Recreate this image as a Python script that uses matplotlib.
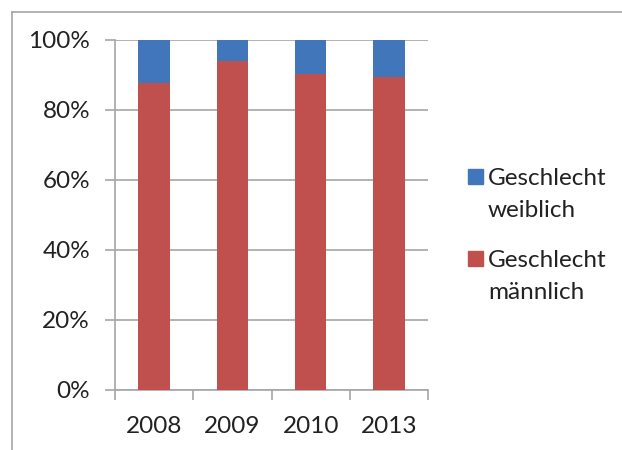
import matplotlib
matplotlib.use("Agg")
import matplotlib.pyplot as plt
import numpy as np
from matplotlib.patches import Rectangle
from matplotlib.lines import Line2D

years = ["2008", "2009", "2010", "2013"]
maennlich = [87.8, 94.0, 90.2, 89.3]
weiblich = [12.2, 6.0, 9.8, 10.7]
labels = ["Geschlecht\nweiblich", "Geschlecht\nmännlich"]

col_w = "#4177BA"
col_m = "#C0504D"
grey = "#A6A6A6"

plt.rcParams['font.family'] = ['Lato', 'DejaVu Sans']
fs = 17.5

fig = plt.figure(figsize=(6.22, 4.5), dpi=100)
ax = fig.add_axes([115/622, 60/450, 313/622, 350/450])

x = np.arange(len(years))
ax.bar(x, maennlich, width=0.4, color=col_m, zorder=3)
ax.bar(x, weiblich, width=0.4, bottom=maennlich, color=col_w, zorder=3)

ax.set_xlim(-0.5, len(years) - 0.5)
ax.set_ylim(0, 100)
ax.set_yticks(np.arange(0, 101, 20))
ax.set_yticklabels([f"{v}%" for v in range(0, 101, 20)])
ax.yaxis.grid(True, color=grey, lw=1.2, zorder=0)

ax.set_xticks(x)
ax.set_xticklabels(years)
ax.set_xticks(np.arange(-0.5, len(years)), minor=True)
ax.tick_params(axis='x', which='major', length=0, pad=19, labelsize=fs, colors="#222222")
ax.tick_params(axis='x', which='minor', length=7, width=1.2, color=grey, direction='out')
ax.tick_params(axis='y', length=7, width=1.2, color=grey, pad=11, labelsize=fs, labelcolor="#222222")

for s in ['top', 'right']:
    ax.spines[s].set_visible(False)
for s in ['left', 'bottom']:
    ax.spines[s].set_color(grey)
    ax.spines[s].set_linewidth(1.2)

# legend drawn by hand
for i, (lab, c) in enumerate(zip(labels, [col_w, col_m])):
    ytop = 1 - (169 + i * 82) / 450
    fig.patches.append(Rectangle((468/622, ytop - 15/450), 15/622, 15/450,
                                 transform=fig.transFigure, color=c))
    fig.text(488/622, ytop + 1/450, lab, fontsize=fs, va='top', ha='left',
             color="#222222", linespacing=1.62)

# outer frame
fig.lines.append(Line2D([12/622, 12/622], [0, 1 - 12/450], transform=fig.transFigure, color=grey, lw=1.2))
fig.lines.append(Line2D([12/622, 1], [1 - 12/450, 1 - 12/450], transform=fig.transFigure, color=grey, lw=1.2))

fig.savefig("out.png", dpi=100)
